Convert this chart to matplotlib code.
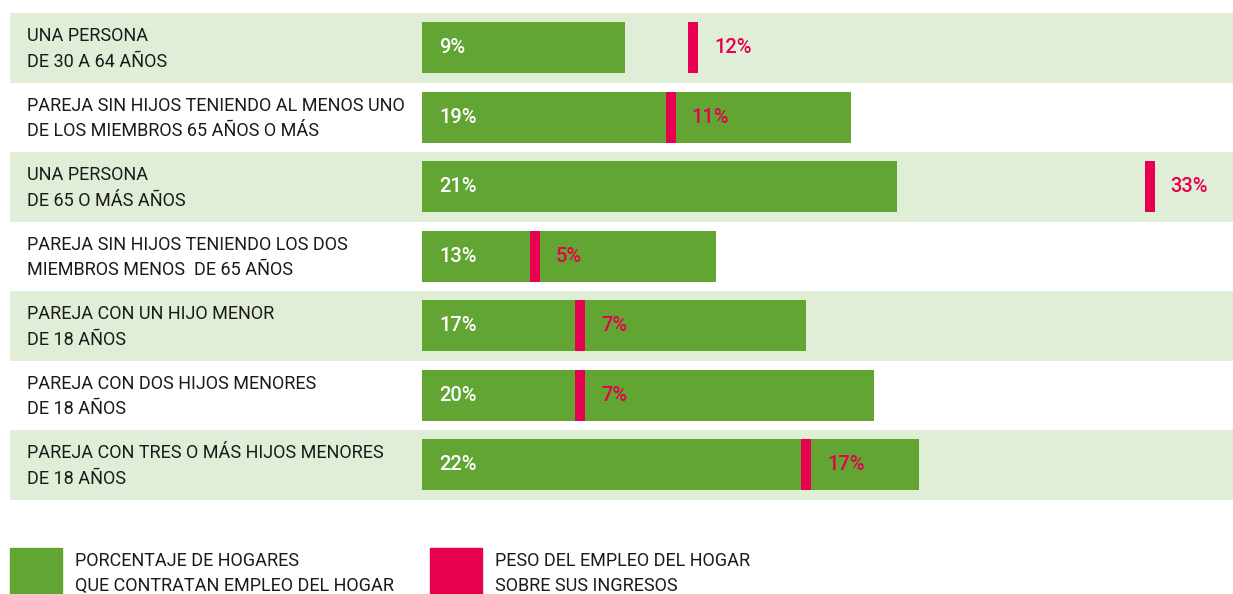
import matplotlib.pyplot as plt
from matplotlib.patches import Rectangle

plt.rcParams['font.family'] = ['Roboto', 'DejaVu Sans']

categories = [
    "UNA PERSONA\nDE 30 A 64 AÑOS",
    "PAREJA SIN HIJOS TENIENDO AL MENOS UNO\nDE LOS MIEMBROS 65 AÑOS O MÁS",
    "UNA PERSONA\nDE 65 O MÁS AÑOS",
    "PAREJA SIN HIJOS TENIENDO LOS DOS\nMIEMBROS MENOS  DE 65 AÑOS",
    "PAREJA CON UN HIJO MENOR\nDE 18 AÑOS",
    "PAREJA CON DOS HIJOS MENORES\nDE 18 AÑOS",
    "PAREJA CON TRES O MÁS HIJOS MENORES\nDE 18 AÑOS",
]
hogares = [9, 19, 21, 13, 17, 20, 22]
peso = [12, 11, 32.2, 5, 7, 7, 17]
peso_labels = ["12%", "11%", "33%", "5%", "7%", "7%", "17%"]

GREEN = "#62a533"
RED = "#e6004f"
BAND = "#e0edd7"

W, H = 1233, 594
fig = plt.figure(figsize=(W / 100, H / 100), dpi=100)
ax = fig.add_axes([10 / W, 1 - 499.5 / H, 1223 / W, 486.5 / H])
ax.set_xlim(-412 / 22.6, 811 / 22.6)
ax.set_ylim(len(categories) - 0.5, -0.5)
ax.axis("off")

for i, cat in enumerate(categories):
    if i % 2 == 0:
        ax.axhspan(i - 0.5, i + 0.5, color=BAND, zorder=0, lw=0)
    ax.text(17 / 1223, i + 0.02, cat, transform=ax.get_yaxis_transform(),
            ha="left", va="center", fontsize=13, color="#1a1a1a",
            linespacing=1.55)

ax.barh(range(len(hogares)), hogares, height=0.73, color=GREEN, zorder=2)
ax.barh(range(len(peso)), [10 / 22.6] * len(peso), left=[p - 5 / 22.6 for p in peso],
        height=0.73, color=RED, zorder=3)

for i, (h, p, lab) in enumerate(zip(hogares, peso, peso_labels)):
    ax.text(17 / 22.6, i, f"{h}%", ha="left", va="center", color="white",
            fontsize=14.5, fontweight="medium", zorder=4)
    ax.text(p + 21 / 22.6, i, lab, ha="left", va="center", color=RED,
            fontsize=14.5, fontweight="medium", zorder=4)

# legend
fig.add_artist(Rectangle((10 / W, 0), 52 / W, 46 / H, color=GREEN,
                         transform=fig.transFigure))
fig.add_artist(Rectangle((430 / W, 0), 52 / W, 46 / H, color=RED,
                         transform=fig.transFigure))
fig.text(75 / W, 1 - 573.5 / H, "PORCENTAJE DE HOGARES\nQUE CONTRATAN EMPLEO DEL HOGAR",
         ha="left", va="center", fontsize=13, color="#1a1a1a", linespacing=1.55)
fig.text(495 / W, 1 - 573.5 / H, "PESO DEL EMPLEO DEL HOGAR\nSOBRE SUS INGRESOS",
         ha="left", va="center", fontsize=13, color="#1a1a1a", linespacing=1.55)

fig.savefig("out.png", dpi=100, facecolor="white")
